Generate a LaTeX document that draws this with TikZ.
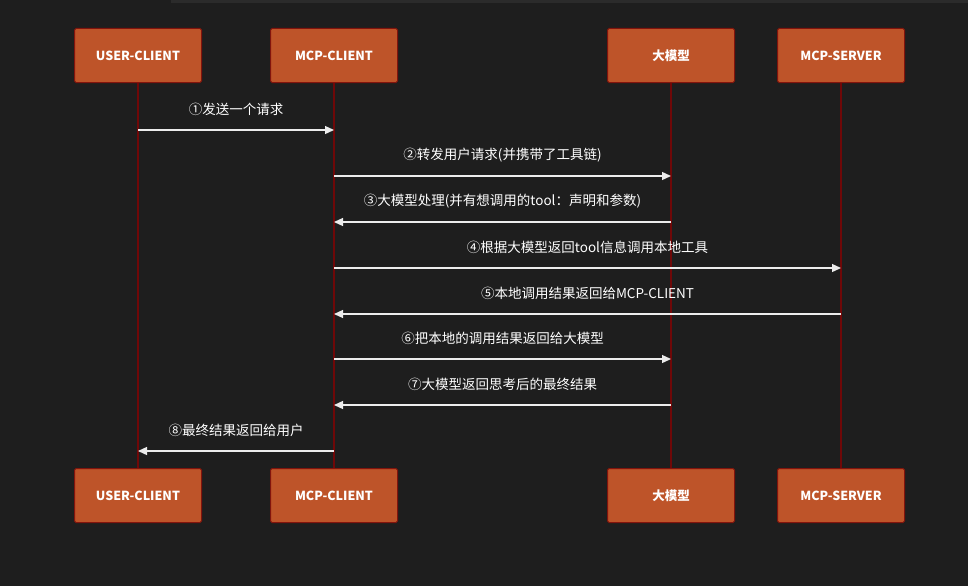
\documentclass[tikz,border=0pt]{standalone}
\usepackage{fontspec}
\setmainfont{Noto Sans CJK SC}
\usetikzlibrary{arrows.meta}

\definecolor{bgdark}{HTML}{1E1E1E}
\definecolor{topstrip}{HTML}{2B2B2B}
\definecolor{boxfill}{HTML}{BE5429}
\definecolor{boxline}{HTML}{82140C}
\definecolor{lifered}{HTML}{6F0808}
\definecolor{msgwhite}{HTML}{ECECEC}

\tikzset{
  actor/.style={draw=boxline, fill=boxfill, line width=1pt, rounded corners=1.5pt,
    minimum width=127pt, minimum height=54pt, inner sep=0pt, text=white,
    font=\fontsize{12.5}{14}\selectfont\bfseries},
  life/.style={draw=lifered, line width=1.4pt},
  msg/.style={draw=msgwhite, line width=1.3pt, -{Triangle[length=9pt,width=8pt]}},
  msgtext/.style={text=white, inner sep=0pt, yshift=21pt,
    font=\fontsize{13.5}{15}\selectfont}
}

\begin{document}
\begin{tikzpicture}[x=1pt,y=-1pt]
  \useasboundingbox[fill=bgdark] (0,0) rectangle (968,586);
  \fill[topstrip] (171,0) rectangle (968,3);
  % participants, top
  \node[actor] (userTop) at (138,55.5) {USER-CLIENT};
  \node[actor] (mcpTop) at (334,55.5) {MCP-CLIENT};
  \node[actor] (llmTop) at (671,55.5) {大模型};
  \node[actor] (serverTop) at (841,55.5) {MCP-SERVER};
  % participants, bottom
  \node[actor] (userBot) at (138,495.5) {USER-CLIENT};
  \node[actor] (mcpBot) at (334,495.5) {MCP-CLIENT};
  \node[actor] (llmBot) at (671,495.5) {大模型};
  \node[actor] (serverBot) at (841,495.5) {MCP-SERVER};
  % lifelines
  \draw[life] (userTop) -- (userBot);
  \draw[life] (mcpTop) -- (mcpBot);
  \draw[life] (llmTop) -- (llmBot);
  \draw[life] (serverTop) -- (serverBot);
  % messages
  \draw[msg] (userTop|-0,130) -- node[msgtext]{①发送一个请求} (mcpTop|-0,130);
  \draw[msg] (mcpTop|-0,176) -- node[msgtext]{②转发用户请求(并携带了工具链)} (llmTop|-0,176);
  \draw[msg] (llmTop|-0,222) -- node[msgtext]{③大模型处理(并有想调用的tool：声明和参数)} (mcpTop|-0,222);
  \draw[msg] (mcpTop|-0,268) -- node[msgtext]{④根据大模型返回tool信息调用本地工具} (serverTop|-0,268);
  \draw[msg] (serverTop|-0,314) -- node[msgtext]{⑤本地调用结果返回给MCP-CLIENT} (mcpTop|-0,314);
  \draw[msg] (mcpTop|-0,359) -- node[msgtext]{⑥把本地的调用结果返回给大模型} (llmTop|-0,359);
  \draw[msg] (llmTop|-0,405) -- node[msgtext]{⑦大模型返回思考后的最终结果} (mcpTop|-0,405);
  \draw[msg] (mcpTop|-0,451) -- node[msgtext]{⑧最终结果返回给用户} (userTop|-0,451);
\end{tikzpicture}
\end{document}
